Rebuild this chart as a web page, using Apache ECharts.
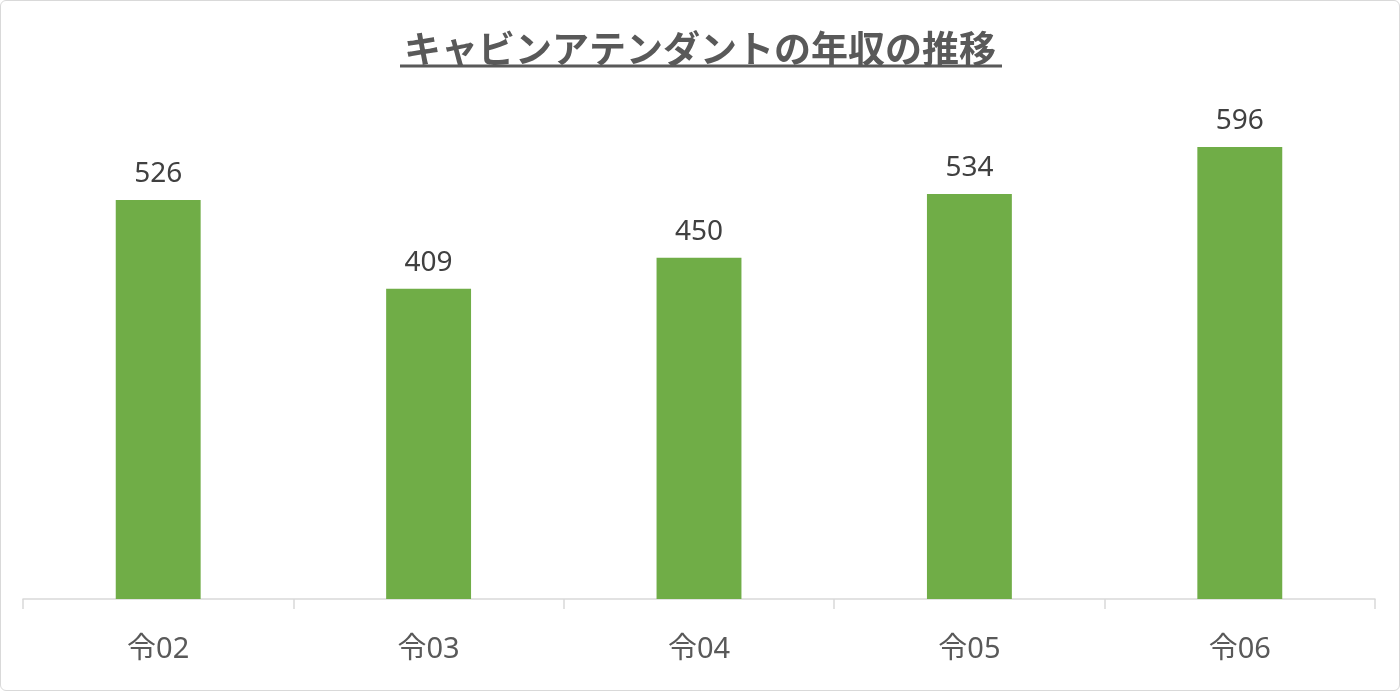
<!DOCTYPE html>
<html><head><meta charset="utf-8">
<script src="https://cdn.jsdelivr.net/npm/echarts@6/dist/echarts.min.js"></script>
<style>
html,body{margin:0;padding:0;background:#fff;}
#c{position:absolute;left:0;top:0;width:1398px;height:689px;border:1px solid #d9d9d9;border-radius:6px;}
</style></head><body>
<div id="c"></div>
<script>
const titleText = 'キャビンアテンダントの年収の推移';
const categories = ['令02','令03','令04','令05','令06'];
const values = [526, 409, 450, 534, 596];

const chart = echarts.init(document.getElementById('c'));
chart.setOption({
  animation:false,
  title:{text:titleText,left:'center',top:24,
    textStyle:{fontFamily:'"Noto Sans CJK JP"',fontSize:37,fontWeight:'bold',color:'#595959'}},
  graphic:[{type:'line',shape:{x1:399,y1:65,x2:1001,y2:65},style:{stroke:'#595959',lineWidth:3}}],
  grid:{left:22,right:24,top:67,bottom:91},
  xAxis:{type:'category',data:categories,
    axisLine:{lineStyle:{color:'#d9d9d9',width:1.5}},
    axisTick:{show:true,alignWithLabel:false,length:10,lineStyle:{color:'#d9d9d9',width:1.5}},
    axisLabel:{color:'#595959',fontSize:29,margin:36,fontFamily:'"Noto Sans","Noto Sans CJK JP"'}},
  yAxis:{type:'value',min:0,max:700,show:false,splitLine:{show:false}},
  series:[{type:'bar',data:values,barWidth:'31.4%',
    itemStyle:{color:'#70ad47'},
    label:{show:true,position:'top',distance:12,color:'#404040',fontSize:28,fontFamily:'"Noto Sans","Noto Sans CJK JP"'}}]
});
</script></body></html>
